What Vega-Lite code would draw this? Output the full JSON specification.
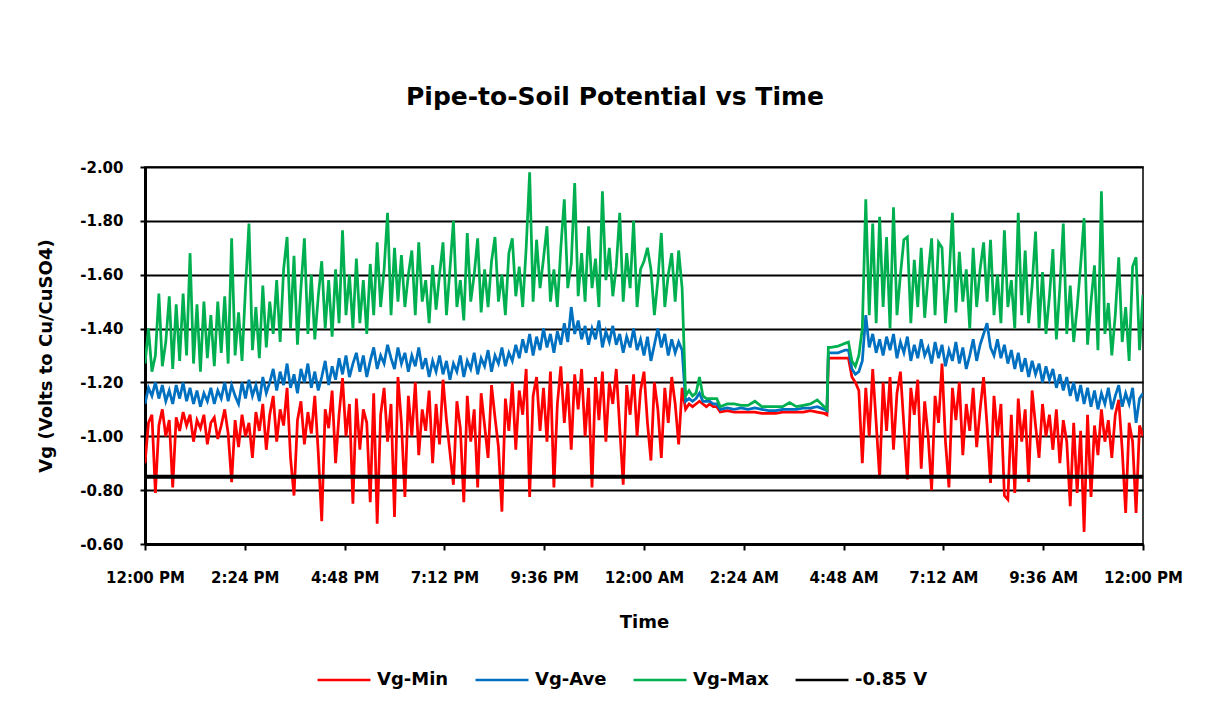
{
  "$schema": "https://vega.github.io/schema/vega-lite/v6.json",
  "autosize": "none",
  "width": 998,
  "height": 377,
  "padding": {"left": 145, "top": 167, "right": 82, "bottom": 171},
  "background": "white",
  "config": {
    "font": "DejaVu Sans",
    "view": {"stroke": "#000000", "strokeWidth": 1.5},
    "axis": {"labelFont": "DejaVu Sans", "titleFont": "DejaVu Sans", "labelFontWeight": "bold", "titleFontWeight": "bold", "labelColor": "#000", "titleColor": "#000", "labelFontSize": 15, "titleFontSize": 18, "domainColor": "#000", "tickColor": "#000"},
    "legend": {"labelFont": "DejaVu Sans", "labelFontWeight": "bold", "labelFontSize": 18, "labelColor": "#000"}
  },
  "title": {"text": "Pipe-to-Soil Potential vs Time", "fontSize": 25, "fontWeight": "bold", "font": "DejaVu Sans", "color": "#000", "anchor": "middle", "dx": -29, "offset": 50},
  "layer": [
    {
      "data": {"values": [
        {"t":0,"Vg-Min":-0.90,"Vg-Ave":-1.12,"Vg-Max":-1.27},
        {"t":5,"Vg-Min":-1.05,"Vg-Ave":-1.18,"Vg-Max":-1.40},
        {"t":10,"Vg-Min":-1.08,"Vg-Ave":-1.15,"Vg-Max":-1.24},
        {"t":15,"Vg-Min":-0.79,"Vg-Ave":-1.20,"Vg-Max":-1.30},
        {"t":20,"Vg-Min":-1.04,"Vg-Ave":-1.14,"Vg-Max":-1.53},
        {"t":25,"Vg-Min":-1.10,"Vg-Ave":-1.19,"Vg-Max":-1.26},
        {"t":30,"Vg-Min":-1.00,"Vg-Ave":-1.13,"Vg-Max":-1.35},
        {"t":35,"Vg-Min":-1.06,"Vg-Ave":-1.17,"Vg-Max":-1.52},
        {"t":40,"Vg-Min":-0.81,"Vg-Ave":-1.12,"Vg-Max":-1.25},
        {"t":45,"Vg-Min":-1.07,"Vg-Ave":-1.19,"Vg-Max":-1.49},
        {"t":50,"Vg-Min":-1.02,"Vg-Ave":-1.14,"Vg-Max":-1.28},
        {"t":55,"Vg-Min":-1.09,"Vg-Ave":-1.20,"Vg-Max":-1.53},
        {"t":60,"Vg-Min":-1.04,"Vg-Ave":-1.13,"Vg-Max":-1.30},
        {"t":65,"Vg-Min":-1.08,"Vg-Ave":-1.18,"Vg-Max":-1.68},
        {"t":70,"Vg-Min":-0.98,"Vg-Ave":-1.12,"Vg-Max":-1.27},
        {"t":75,"Vg-Min":-1.06,"Vg-Ave":-1.17,"Vg-Max":-1.49},
        {"t":80,"Vg-Min":-1.03,"Vg-Ave":-1.11,"Vg-Max":-1.24},
        {"t":85,"Vg-Min":-1.08,"Vg-Ave":-1.16,"Vg-Max":-1.50},
        {"t":90,"Vg-Min":-0.97,"Vg-Ave":-1.13,"Vg-Max":-1.29},
        {"t":95,"Vg-Min":-1.05,"Vg-Ave":-1.18,"Vg-Max":-1.45},
        {"t":100,"Vg-Min":-1.07,"Vg-Ave":-1.12,"Vg-Max":-1.26},
        {"t":105,"Vg-Min":-0.99,"Vg-Ave":-1.17,"Vg-Max":-1.50},
        {"t":110,"Vg-Min":-1.04,"Vg-Ave":-1.14,"Vg-Max":-1.31},
        {"t":115,"Vg-Min":-1.10,"Vg-Ave":-1.20,"Vg-Max":-1.52},
        {"t":120,"Vg-Min":-1.01,"Vg-Ave":-1.13,"Vg-Max":-1.27},
        {"t":125,"Vg-Min":-0.83,"Vg-Ave":-1.19,"Vg-Max":-1.735},
        {"t":130,"Vg-Min":-1.06,"Vg-Ave":-1.15,"Vg-Max":-1.30},
        {"t":135,"Vg-Min":-0.96,"Vg-Ave":-1.12,"Vg-Max":-1.46},
        {"t":140,"Vg-Min":-1.08,"Vg-Ave":-1.20,"Vg-Max":-1.28},
        {"t":145,"Vg-Min":-1.00,"Vg-Ave":-1.14,"Vg-Max":-1.55},
        {"t":150,"Vg-Min":-1.05,"Vg-Ave":-1.21,"Vg-Max":-1.79},
        {"t":155,"Vg-Min":-0.92,"Vg-Ave":-1.15,"Vg-Max":-1.32},
        {"t":160,"Vg-Min":-1.09,"Vg-Ave":-1.19,"Vg-Max":-1.48},
        {"t":165,"Vg-Min":-1.02,"Vg-Ave":-1.13,"Vg-Max":-1.29},
        {"t":170,"Vg-Min":-1.12,"Vg-Ave":-1.22,"Vg-Max":-1.56},
        {"t":175,"Vg-Min":-0.95,"Vg-Ave":-1.16,"Vg-Max":-1.33},
        {"t":180,"Vg-Min":-1.08,"Vg-Ave":-1.20,"Vg-Max":-1.50},
        {"t":185,"Vg-Min":-1.15,"Vg-Ave":-1.25,"Vg-Max":-1.38},
        {"t":190,"Vg-Min":-0.98,"Vg-Ave":-1.17,"Vg-Max":-1.58},
        {"t":195,"Vg-Min":-1.10,"Vg-Ave":-1.24,"Vg-Max":-1.35},
        {"t":200,"Vg-Min":-1.04,"Vg-Ave":-1.19,"Vg-Max":-1.62},
        {"t":205,"Vg-Min":-1.18,"Vg-Ave":-1.27,"Vg-Max":-1.74},
        {"t":210,"Vg-Min":-0.92,"Vg-Ave":-1.18,"Vg-Max":-1.40},
        {"t":215,"Vg-Min":-0.78,"Vg-Ave":-1.23,"Vg-Max":-1.67},
        {"t":220,"Vg-Min":-1.06,"Vg-Ave":-1.16,"Vg-Max":-1.34},
        {"t":225,"Vg-Min":-1.13,"Vg-Ave":-1.25,"Vg-Max":-1.55},
        {"t":230,"Vg-Min":-0.97,"Vg-Ave":-1.20,"Vg-Max":-1.735},
        {"t":235,"Vg-Min":-1.09,"Vg-Ave":-1.27,"Vg-Max":-1.38},
        {"t":240,"Vg-Min":-1.01,"Vg-Ave":-1.18,"Vg-Max":-1.60},
        {"t":245,"Vg-Min":-1.15,"Vg-Ave":-1.24,"Vg-Max":-1.36},
        {"t":250,"Vg-Min":-0.94,"Vg-Ave":-1.17,"Vg-Max":-1.52},
        {"t":255,"Vg-Min":-0.685,"Vg-Ave":-1.22,"Vg-Max":-1.65},
        {"t":260,"Vg-Min":-1.10,"Vg-Ave":-1.28,"Vg-Max":-1.40},
        {"t":265,"Vg-Min":-1.03,"Vg-Ave":-1.19,"Vg-Max":-1.58},
        {"t":270,"Vg-Min":-1.17,"Vg-Ave":-1.26,"Vg-Max":-1.37},
        {"t":275,"Vg-Min":-0.90,"Vg-Ave":-1.21,"Vg-Max":-1.62},
        {"t":280,"Vg-Min":-1.08,"Vg-Ave":-1.29,"Vg-Max":-1.42},
        {"t":285,"Vg-Min":-1.216,"Vg-Ave":-1.23,"Vg-Max":-1.765},
        {"t":290,"Vg-Min":-1.00,"Vg-Ave":-1.30,"Vg-Max":-1.45},
        {"t":295,"Vg-Min":-1.12,"Vg-Ave":-1.22,"Vg-Max":-1.60},
        {"t":300,"Vg-Min":-0.75,"Vg-Ave":-1.27,"Vg-Max":-1.40},
        {"t":305,"Vg-Min":-1.14,"Vg-Ave":-1.31,"Vg-Max":-1.66},
        {"t":310,"Vg-Min":-0.95,"Vg-Ave":-1.24,"Vg-Max":-1.42},
        {"t":315,"Vg-Min":-1.10,"Vg-Ave":-1.30,"Vg-Max":-1.58},
        {"t":320,"Vg-Min":-1.05,"Vg-Ave":-1.22,"Vg-Max":-1.38},
        {"t":325,"Vg-Min":-0.755,"Vg-Ave":-1.28,"Vg-Max":-1.64},
        {"t":330,"Vg-Min":-1.16,"Vg-Ave":-1.33,"Vg-Max":-1.45},
        {"t":335,"Vg-Min":-0.675,"Vg-Ave":-1.25,"Vg-Max":-1.72},
        {"t":340,"Vg-Min":-1.08,"Vg-Ave":-1.30,"Vg-Max":-1.48},
        {"t":345,"Vg-Min":-1.18,"Vg-Ave":-1.27,"Vg-Max":-1.62},
        {"t":350,"Vg-Min":-0.98,"Vg-Ave":-1.34,"Vg-Max":-1.83},
        {"t":355,"Vg-Min":-1.12,"Vg-Ave":-1.29,"Vg-Max":-1.45},
        {"t":360,"Vg-Min":-0.70,"Vg-Ave":-1.25,"Vg-Max":-1.70},
        {"t":365,"Vg-Min":-1.22,"Vg-Ave":-1.33,"Vg-Max":-1.50},
        {"t":370,"Vg-Min":-1.05,"Vg-Ave":-1.27,"Vg-Max":-1.673},
        {"t":375,"Vg-Min":-0.775,"Vg-Ave":-1.31,"Vg-Max":-1.48},
        {"t":380,"Vg-Min":-1.15,"Vg-Ave":-1.24,"Vg-Max":-1.60},
        {"t":385,"Vg-Min":-1.00,"Vg-Ave":-1.30,"Vg-Max":-1.69},
        {"t":390,"Vg-Min":-1.20,"Vg-Ave":-1.26,"Vg-Max":-1.45},
        {"t":395,"Vg-Min":-0.93,"Vg-Ave":-1.33,"Vg-Max":-1.72},
        {"t":400,"Vg-Min":-1.10,"Vg-Ave":-1.25,"Vg-Max":-1.50},
        {"t":405,"Vg-Min":-1.02,"Vg-Ave":-1.29,"Vg-Max":-1.58},
        {"t":410,"Vg-Min":-1.17,"Vg-Ave":-1.22,"Vg-Max":-1.42},
        {"t":415,"Vg-Min":-0.90,"Vg-Ave":-1.28,"Vg-Max":-1.636},
        {"t":420,"Vg-Min":-1.12,"Vg-Ave":-1.24,"Vg-Max":-1.47},
        {"t":425,"Vg-Min":-0.97,"Vg-Ave":-1.30,"Vg-Max":-1.60},
        {"t":430,"Vg-Min":-1.21,"Vg-Ave":-1.23,"Vg-Max":-1.72},
        {"t":435,"Vg-Min":-1.06,"Vg-Ave":-1.28,"Vg-Max":-1.45},
        {"t":440,"Vg-Min":-0.94,"Vg-Ave":-1.21,"Vg-Max":-1.62},
        {"t":445,"Vg-Min":-0.82,"Vg-Ave":-1.27,"Vg-Max":-1.80},
        {"t":450,"Vg-Min":-1.13,"Vg-Ave":-1.24,"Vg-Max":-1.48},
        {"t":455,"Vg-Min":-1.03,"Vg-Ave":-1.30,"Vg-Max":-1.58},
        {"t":460,"Vg-Min":-0.755,"Vg-Ave":-1.22,"Vg-Max":-1.43},
        {"t":465,"Vg-Min":-1.15,"Vg-Ave":-1.28,"Vg-Max":-1.755},
        {"t":470,"Vg-Min":-0.98,"Vg-Ave":-1.25,"Vg-Max":-1.50},
        {"t":475,"Vg-Min":-1.10,"Vg-Ave":-1.31,"Vg-Max":-1.60},
        {"t":480,"Vg-Min":-0.81,"Vg-Ave":-1.23,"Vg-Max":-1.735},
        {"t":485,"Vg-Min":-1.16,"Vg-Ave":-1.29,"Vg-Max":-1.46},
        {"t":490,"Vg-Min":-1.04,"Vg-Ave":-1.26,"Vg-Max":-1.62},
        {"t":495,"Vg-Min":-0.92,"Vg-Ave":-1.32,"Vg-Max":-1.48},
        {"t":500,"Vg-Min":-1.19,"Vg-Ave":-1.24,"Vg-Max":-1.65},
        {"t":505,"Vg-Min":-1.07,"Vg-Ave":-1.30,"Vg-Max":-1.74},
        {"t":510,"Vg-Min":-0.96,"Vg-Ave":-1.27,"Vg-Max":-1.50},
        {"t":515,"Vg-Min":-0.72,"Vg-Ave":-1.33,"Vg-Max":-1.60},
        {"t":520,"Vg-Min":-1.14,"Vg-Ave":-1.26,"Vg-Max":-1.45},
        {"t":525,"Vg-Min":-1.02,"Vg-Ave":-1.31,"Vg-Max":-1.68},
        {"t":530,"Vg-Min":-1.20,"Vg-Ave":-1.28,"Vg-Max":-1.735},
        {"t":535,"Vg-Min":-0.95,"Vg-Ave":-1.34,"Vg-Max":-1.52},
        {"t":540,"Vg-Min":-1.17,"Vg-Ave":-1.29,"Vg-Max":-1.63},
        {"t":545,"Vg-Min":-1.08,"Vg-Ave":-1.36,"Vg-Max":-1.48},
        {"t":550,"Vg-Min":-1.25,"Vg-Ave":-1.31,"Vg-Max":-1.70},
        {"t":555,"Vg-Min":-0.775,"Vg-Ave":-1.38,"Vg-Max":-1.98},
        {"t":560,"Vg-Min":-1.15,"Vg-Ave":-1.30,"Vg-Max":-1.50},
        {"t":565,"Vg-Min":-1.22,"Vg-Ave":-1.37,"Vg-Max":-1.73},
        {"t":570,"Vg-Min":-1.02,"Vg-Ave":-1.32,"Vg-Max":-1.55},
        {"t":575,"Vg-Min":-1.18,"Vg-Ave":-1.40,"Vg-Max":-1.66},
        {"t":580,"Vg-Min":-0.98,"Vg-Ave":-1.33,"Vg-Max":-1.78},
        {"t":585,"Vg-Min":-1.24,"Vg-Ave":-1.38,"Vg-Max":-1.50},
        {"t":590,"Vg-Min":-0.81,"Vg-Ave":-1.31,"Vg-Max":-1.62},
        {"t":595,"Vg-Min":-1.12,"Vg-Ave":-1.39,"Vg-Max":-1.48},
        {"t":600,"Vg-Min":-1.26,"Vg-Ave":-1.34,"Vg-Max":-1.70},
        {"t":605,"Vg-Min":-1.05,"Vg-Ave":-1.42,"Vg-Max":-1.88},
        {"t":610,"Vg-Min":-1.20,"Vg-Ave":-1.35,"Vg-Max":-1.55},
        {"t":615,"Vg-Min":-0.95,"Vg-Ave":-1.48,"Vg-Max":-1.64},
        {"t":620,"Vg-Min":-1.23,"Vg-Ave":-1.38,"Vg-Max":-1.94},
        {"t":625,"Vg-Min":-1.10,"Vg-Ave":-1.43,"Vg-Max":-1.52},
        {"t":630,"Vg-Min":-1.25,"Vg-Ave":-1.36,"Vg-Max":-1.68},
        {"t":635,"Vg-Min":-1.00,"Vg-Ave":-1.41,"Vg-Max":-1.50},
        {"t":640,"Vg-Min":-1.18,"Vg-Ave":-1.34,"Vg-Max":-1.78},
        {"t":645,"Vg-Min":-0.81,"Vg-Ave":-1.40,"Vg-Max":-1.55},
        {"t":650,"Vg-Min":-1.22,"Vg-Ave":-1.36,"Vg-Max":-1.66},
        {"t":655,"Vg-Min":-1.06,"Vg-Ave":-1.43,"Vg-Max":-1.48},
        {"t":660,"Vg-Min":-1.24,"Vg-Ave":-1.33,"Vg-Max":-1.91},
        {"t":665,"Vg-Min":-0.98,"Vg-Ave":-1.39,"Vg-Max":-1.58},
        {"t":670,"Vg-Min":-1.20,"Vg-Ave":-1.35,"Vg-Max":-1.70},
        {"t":675,"Vg-Min":-1.12,"Vg-Ave":-1.41,"Vg-Max":-1.52},
        {"t":680,"Vg-Min":-1.25,"Vg-Ave":-1.34,"Vg-Max":-1.63},
        {"t":685,"Vg-Min":-1.03,"Vg-Ave":-1.38,"Vg-Max":-1.83},
        {"t":690,"Vg-Min":-0.82,"Vg-Ave":-1.31,"Vg-Max":-1.50},
        {"t":695,"Vg-Min":-1.19,"Vg-Ave":-1.37,"Vg-Max":-1.68},
        {"t":700,"Vg-Min":-1.08,"Vg-Ave":-1.33,"Vg-Max":-1.55},
        {"t":705,"Vg-Min":-1.23,"Vg-Ave":-1.40,"Vg-Max":-1.80},
        {"t":710,"Vg-Min":-1.00,"Vg-Ave":-1.32,"Vg-Max":-1.48},
        {"t":715,"Vg-Min":-1.17,"Vg-Ave":-1.36,"Vg-Max":-1.62},
        {"t":720,"Vg-Min":-1.24,"Vg-Ave":-1.30,"Vg-Max":-1.65},
        {"t":725,"Vg-Min":-1.05,"Vg-Ave":-1.37,"Vg-Max":-1.70},
        {"t":730,"Vg-Min":-0.91,"Vg-Ave":-1.28,"Vg-Max":-1.62},
        {"t":735,"Vg-Min":-1.20,"Vg-Ave":-1.34,"Vg-Max":-1.45},
        {"t":740,"Vg-Min":-1.10,"Vg-Ave":-1.40,"Vg-Max":-1.58},
        {"t":745,"Vg-Min":-0.92,"Vg-Ave":-1.33,"Vg-Max":-1.755},
        {"t":750,"Vg-Min":-1.18,"Vg-Ave":-1.38,"Vg-Max":-1.48},
        {"t":755,"Vg-Min":-1.05,"Vg-Ave":-1.30,"Vg-Max":-1.60},
        {"t":760,"Vg-Min":-1.22,"Vg-Ave":-1.36,"Vg-Max":-1.68},
        {"t":765,"Vg-Min":-1.12,"Vg-Ave":-1.31,"Vg-Max":-1.50},
        {"t":770,"Vg-Min":-0.97,"Vg-Ave":-1.35,"Vg-Max":-1.69},
        {"t":775,"Vg-Min":-1.18,"Vg-Ave":-1.32,"Vg-Max":-1.55},
        {"t":780,"Vg-Min":-1.10,"Vg-Ave":-1.13,"Vg-Max":-1.15},
        {"t":785,"Vg-Min":-1.12,"Vg-Ave":-1.14,"Vg-Max":-1.17},
        {"t":790,"Vg-Min":-1.11,"Vg-Ave":-1.13,"Vg-Max":-1.15},
        {"t":795,"Vg-Min":-1.12,"Vg-Ave":-1.14,"Vg-Max":-1.16},
        {"t":800,"Vg-Min":-1.13,"Vg-Ave":-1.16,"Vg-Max":-1.22},
        {"t":805,"Vg-Min":-1.12,"Vg-Ave":-1.13,"Vg-Max":-1.15},
        {"t":810,"Vg-Min":-1.11,"Vg-Ave":-1.13,"Vg-Max":-1.14},
        {"t":815,"Vg-Min":-1.12,"Vg-Ave":-1.13,"Vg-Max":-1.14},
        {"t":820,"Vg-Min":-1.11,"Vg-Ave":-1.12,"Vg-Max":-1.14},
        {"t":825,"Vg-Min":-1.11,"Vg-Ave":-1.12,"Vg-Max":-1.14},
        {"t":830,"Vg-Min":-1.09,"Vg-Ave":-1.10,"Vg-Max":-1.11},
        {"t":840,"Vg-Min":-1.095,"Vg-Ave":-1.105,"Vg-Max":-1.12},
        {"t":850,"Vg-Min":-1.09,"Vg-Ave":-1.10,"Vg-Max":-1.12},
        {"t":860,"Vg-Min":-1.09,"Vg-Ave":-1.105,"Vg-Max":-1.115},
        {"t":870,"Vg-Min":-1.09,"Vg-Ave":-1.10,"Vg-Max":-1.115},
        {"t":880,"Vg-Min":-1.09,"Vg-Ave":-1.105,"Vg-Max":-1.13},
        {"t":890,"Vg-Min":-1.085,"Vg-Ave":-1.10,"Vg-Max":-1.11},
        {"t":900,"Vg-Min":-1.085,"Vg-Ave":-1.095,"Vg-Max":-1.11},
        {"t":910,"Vg-Min":-1.085,"Vg-Ave":-1.095,"Vg-Max":-1.11},
        {"t":920,"Vg-Min":-1.09,"Vg-Ave":-1.10,"Vg-Max":-1.11},
        {"t":930,"Vg-Min":-1.09,"Vg-Ave":-1.10,"Vg-Max":-1.125},
        {"t":940,"Vg-Min":-1.09,"Vg-Ave":-1.10,"Vg-Max":-1.11},
        {"t":950,"Vg-Min":-1.09,"Vg-Ave":-1.105,"Vg-Max":-1.115},
        {"t":960,"Vg-Min":-1.095,"Vg-Ave":-1.105,"Vg-Max":-1.12},
        {"t":970,"Vg-Min":-1.09,"Vg-Ave":-1.11,"Vg-Max":-1.135},
        {"t":980,"Vg-Min":-1.085,"Vg-Ave":-1.10,"Vg-Max":-1.11},
        {"t":984,"Vg-Min":-1.08,"Vg-Ave":-1.095,"Vg-Max":-1.10},
        {"t":986,"Vg-Min":-1.29,"Vg-Ave":-1.31,"Vg-Max":-1.33},
        {"t":990,"Vg-Min":-1.29,"Vg-Ave":-1.31,"Vg-Max":-1.33},
        {"t":1000,"Vg-Min":-1.29,"Vg-Ave":-1.31,"Vg-Max":-1.335},
        {"t":1005,"Vg-Min":-1.29,"Vg-Ave":-1.315,"Vg-Max":-1.34},
        {"t":1010,"Vg-Min":-1.29,"Vg-Ave":-1.32,"Vg-Max":-1.345},
        {"t":1015,"Vg-Min":-1.29,"Vg-Ave":-1.32,"Vg-Max":-1.35},
        {"t":1020,"Vg-Min":-1.22,"Vg-Ave":-1.25,"Vg-Max":-1.28},
        {"t":1025,"Vg-Min":-1.20,"Vg-Ave":-1.23,"Vg-Max":-1.26},
        {"t":1030,"Vg-Min":-1.17,"Vg-Ave":-1.24,"Vg-Max":-1.30},
        {"t":1035,"Vg-Min":-0.90,"Vg-Ave":-1.28,"Vg-Max":-1.40},
        {"t":1040,"Vg-Min":-1.18,"Vg-Ave":-1.45,"Vg-Max":-1.88},
        {"t":1045,"Vg-Min":-1.00,"Vg-Ave":-1.33,"Vg-Max":-1.45},
        {"t":1050,"Vg-Min":-1.25,"Vg-Ave":-1.38,"Vg-Max":-1.79},
        {"t":1055,"Vg-Min":-1.05,"Vg-Ave":-1.31,"Vg-Max":-1.42},
        {"t":1060,"Vg-Min":-0.845,"Vg-Ave":-1.36,"Vg-Max":-1.815},
        {"t":1065,"Vg-Min":-1.20,"Vg-Ave":-1.30,"Vg-Max":-1.48},
        {"t":1070,"Vg-Min":-1.02,"Vg-Ave":-1.37,"Vg-Max":-1.74},
        {"t":1075,"Vg-Min":-1.22,"Vg-Ave":-1.32,"Vg-Max":-1.40},
        {"t":1080,"Vg-Min":-0.95,"Vg-Ave":-1.38,"Vg-Max":-1.85},
        {"t":1085,"Vg-Min":-1.16,"Vg-Ave":-1.29,"Vg-Max":-1.45},
        {"t":1090,"Vg-Min":-1.24,"Vg-Ave":-1.35,"Vg-Max":-1.60},
        {"t":1095,"Vg-Min":-1.04,"Vg-Ave":-1.31,"Vg-Max":-1.73},
        {"t":1100,"Vg-Min":-0.84,"Vg-Ave":-1.37,"Vg-Max":-1.74},
        {"t":1105,"Vg-Min":-1.18,"Vg-Ave":-1.28,"Vg-Max":-1.42},
        {"t":1110,"Vg-Min":-1.08,"Vg-Ave":-1.34,"Vg-Max":-1.655},
        {"t":1115,"Vg-Min":-1.21,"Vg-Ave":-1.29,"Vg-Max":-1.48},
        {"t":1120,"Vg-Min":-0.88,"Vg-Ave":-1.36,"Vg-Max":-1.70},
        {"t":1125,"Vg-Min":-1.13,"Vg-Ave":-1.30,"Vg-Max":-1.44},
        {"t":1130,"Vg-Min":-1.00,"Vg-Ave":-1.33,"Vg-Max":-1.60},
        {"t":1135,"Vg-Min":-0.80,"Vg-Ave":-1.27,"Vg-Max":-1.735},
        {"t":1140,"Vg-Min":-1.15,"Vg-Ave":-1.35,"Vg-Max":-1.45},
        {"t":1145,"Vg-Min":-1.05,"Vg-Ave":-1.29,"Vg-Max":-1.72},
        {"t":1150,"Vg-Min":-1.27,"Vg-Ave":-1.34,"Vg-Max":-1.70},
        {"t":1155,"Vg-Min":-0.98,"Vg-Ave":-1.26,"Vg-Max":-1.42},
        {"t":1160,"Vg-Min":-0.81,"Vg-Ave":-1.32,"Vg-Max":-1.58},
        {"t":1165,"Vg-Min":-1.18,"Vg-Ave":-1.28,"Vg-Max":-1.83},
        {"t":1170,"Vg-Min":-1.06,"Vg-Ave":-1.35,"Vg-Max":-1.46},
        {"t":1175,"Vg-Min":-1.20,"Vg-Ave":-1.27,"Vg-Max":-1.685},
        {"t":1180,"Vg-Min":-0.93,"Vg-Ave":-1.33,"Vg-Max":-1.50},
        {"t":1185,"Vg-Min":-1.12,"Vg-Ave":-1.25,"Vg-Max":-1.62},
        {"t":1190,"Vg-Min":-1.02,"Vg-Ave":-1.30,"Vg-Max":-1.40},
        {"t":1195,"Vg-Min":-1.18,"Vg-Ave":-1.36,"Vg-Max":-1.70},
        {"t":1200,"Vg-Min":-0.96,"Vg-Ave":-1.28,"Vg-Max":-1.48},
        {"t":1205,"Vg-Min":-1.10,"Vg-Ave":-1.34,"Vg-Max":-1.62},
        {"t":1210,"Vg-Min":-1.22,"Vg-Ave":-1.38,"Vg-Max":-1.72},
        {"t":1215,"Vg-Min":-1.04,"Vg-Ave":-1.42,"Vg-Max":-1.50},
        {"t":1220,"Vg-Min":-0.827,"Vg-Ave":-1.33,"Vg-Max":-1.73},
        {"t":1225,"Vg-Min":-1.15,"Vg-Ave":-1.30,"Vg-Max":-1.45},
        {"t":1230,"Vg-Min":-1.00,"Vg-Ave":-1.36,"Vg-Max":-1.60},
        {"t":1235,"Vg-Min":-1.12,"Vg-Ave":-1.29,"Vg-Max":-1.42},
        {"t":1240,"Vg-Min":-0.78,"Vg-Ave":-1.34,"Vg-Max":-1.765},
        {"t":1245,"Vg-Min":-0.765,"Vg-Ave":-1.27,"Vg-Max":-1.48},
        {"t":1250,"Vg-Min":-1.08,"Vg-Ave":-1.32,"Vg-Max":-1.58},
        {"t":1255,"Vg-Min":-0.79,"Vg-Ave":-1.25,"Vg-Max":-1.40},
        {"t":1260,"Vg-Min":-1.14,"Vg-Ave":-1.31,"Vg-Max":-1.83},
        {"t":1265,"Vg-Min":-0.98,"Vg-Ave":-1.24,"Vg-Max":-1.45},
        {"t":1270,"Vg-Min":-1.10,"Vg-Ave":-1.29,"Vg-Max":-1.69},
        {"t":1275,"Vg-Min":-0.83,"Vg-Ave":-1.22,"Vg-Max":-1.42},
        {"t":1280,"Vg-Min":-1.17,"Vg-Ave":-1.28,"Vg-Max":-1.56},
        {"t":1285,"Vg-Min":-1.04,"Vg-Ave":-1.23,"Vg-Max":-1.76},
        {"t":1290,"Vg-Min":-0.92,"Vg-Ave":-1.27,"Vg-Max":-1.40},
        {"t":1295,"Vg-Min":-1.12,"Vg-Ave":-1.20,"Vg-Max":-1.61},
        {"t":1300,"Vg-Min":-1.00,"Vg-Ave":-1.26,"Vg-Max":-1.38},
        {"t":1305,"Vg-Min":-1.08,"Vg-Ave":-1.21,"Vg-Max":-1.52},
        {"t":1310,"Vg-Min":-0.95,"Vg-Ave":-1.25,"Vg-Max":-1.695},
        {"t":1315,"Vg-Min":-1.10,"Vg-Ave":-1.18,"Vg-Max":-1.36},
        {"t":1320,"Vg-Min":-0.90,"Vg-Ave":-1.23,"Vg-Max":-1.55},
        {"t":1325,"Vg-Min":-1.06,"Vg-Ave":-1.17,"Vg-Max":-1.79},
        {"t":1330,"Vg-Min":-0.98,"Vg-Ave":-1.22,"Vg-Max":-1.38},
        {"t":1335,"Vg-Min":-0.74,"Vg-Ave":-1.15,"Vg-Max":-1.56},
        {"t":1340,"Vg-Min":-1.05,"Vg-Ave":-1.20,"Vg-Max":-1.35},
        {"t":1345,"Vg-Min":-0.79,"Vg-Ave":-1.13,"Vg-Max":-1.48},
        {"t":1350,"Vg-Min":-1.02,"Vg-Ave":-1.19,"Vg-Max":-1.635},
        {"t":1355,"Vg-Min":-0.645,"Vg-Ave":-1.12,"Vg-Max":-1.81},
        {"t":1360,"Vg-Min":-1.08,"Vg-Ave":-1.18,"Vg-Max":-1.34},
        {"t":1365,"Vg-Min":-0.775,"Vg-Ave":-1.11,"Vg-Max":-1.50},
        {"t":1370,"Vg-Min":-1.04,"Vg-Ave":-1.17,"Vg-Max":-1.635},
        {"t":1375,"Vg-Min":-0.93,"Vg-Ave":-1.10,"Vg-Max":-1.32},
        {"t":1380,"Vg-Min":-1.10,"Vg-Ave":-1.16,"Vg-Max":-1.91},
        {"t":1385,"Vg-Min":-0.98,"Vg-Ave":-1.12,"Vg-Max":-1.38},
        {"t":1390,"Vg-Min":-1.06,"Vg-Ave":-1.18,"Vg-Max":-1.495},
        {"t":1395,"Vg-Min":-0.92,"Vg-Ave":-1.10,"Vg-Max":-1.30},
        {"t":1400,"Vg-Min":-1.08,"Vg-Ave":-1.15,"Vg-Max":-1.45},
        {"t":1405,"Vg-Min":-1.135,"Vg-Ave":-1.19,"Vg-Max":-1.665},
        {"t":1410,"Vg-Min":-0.95,"Vg-Ave":-1.11,"Vg-Max":-1.35},
        {"t":1415,"Vg-Min":-0.715,"Vg-Ave":-1.16,"Vg-Max":-1.48},
        {"t":1420,"Vg-Min":-1.05,"Vg-Ave":-1.12,"Vg-Max":-1.28},
        {"t":1425,"Vg-Min":-0.98,"Vg-Ave":-1.18,"Vg-Max":-1.63},
        {"t":1430,"Vg-Min":-0.715,"Vg-Ave":-1.05,"Vg-Max":-1.665},
        {"t":1435,"Vg-Min":-1.04,"Vg-Ave":-1.14,"Vg-Max":-1.32},
        {"t":1440,"Vg-Min":-1.00,"Vg-Ave":-1.16,"Vg-Max":-1.525}
      ]},
      "transform": [{"fold": ["Vg-Min", "Vg-Ave", "Vg-Max"], "as": ["series", "v"]}],
      "mark": {"type": "line", "clip": true},
      "encoding": {
        "x": {"field": "t", "type": "quantitative", "scale": {"domain": [0, 1440], "nice": false, "zero": false},
          "axis": {"title": "Time", "values": [0, 144, 288, 432, 576, 720, 864, 1008, 1152, 1296, 1440], "labelExpr": "utcFormat((datum.value + 720) * 60000, '%-I:%M %p')", "grid": false, "domainWidth": 3, "tickSize": 6, "tickWidth": 2, "labelPadding": 20, "titlePadding": 28, "labelFlush": false}},
        "y": {"field": "v", "type": "quantitative", "scale": {"domain": [-2, -0.6], "reverse": true, "nice": false, "zero": false},
          "axis": {"title": "Vg (Volts to Cu/CuSO4)", "values": [-2, -1.8, -1.6, -1.4, -1.2, -1, -0.8, -0.6], "labelExpr": "replace(format(datum.value, '.2f'), '\u2212', '-')", "grid": true, "gridColor": "#000", "gridWidth": 2, "gridOpacity": 1, "domainWidth": 3, "tickSize": 5, "tickWidth": 2, "labelPadding": 17, "titlePadding": 24}},
        "color": {"field": "series", "type": "nominal", "scale": {"domain": ["Vg-Min", "Vg-Ave", "Vg-Max", "-0.85 V"], "range": ["#FF0000", "#0070C0", "#00B050", "#000000"]},
          "legend": {"title": null, "orient": "none", "direction": "horizontal", "legendX": 171, "legendY": 485, "symbolType": "stroke", "symbolSize": 2800, "symbolStrokeWidth": 2.5, "labelOffset": 5, "columnPadding": 21}},
        "strokeWidth": {"value": 2.75}
      }
    },
    {
      "data": {"values": [{"t": 0, "series": "-0.85 V", "v": -0.85}, {"t": 1440, "series": "-0.85 V", "v": -0.85}]},
      "mark": {"type": "line", "strokeWidth": 4},
      "encoding": {
        "x": {"field": "t", "type": "quantitative"},
        "y": {"field": "v", "type": "quantitative"},
        "color": {"field": "series", "type": "nominal"}
      }
    }
  ]
}
